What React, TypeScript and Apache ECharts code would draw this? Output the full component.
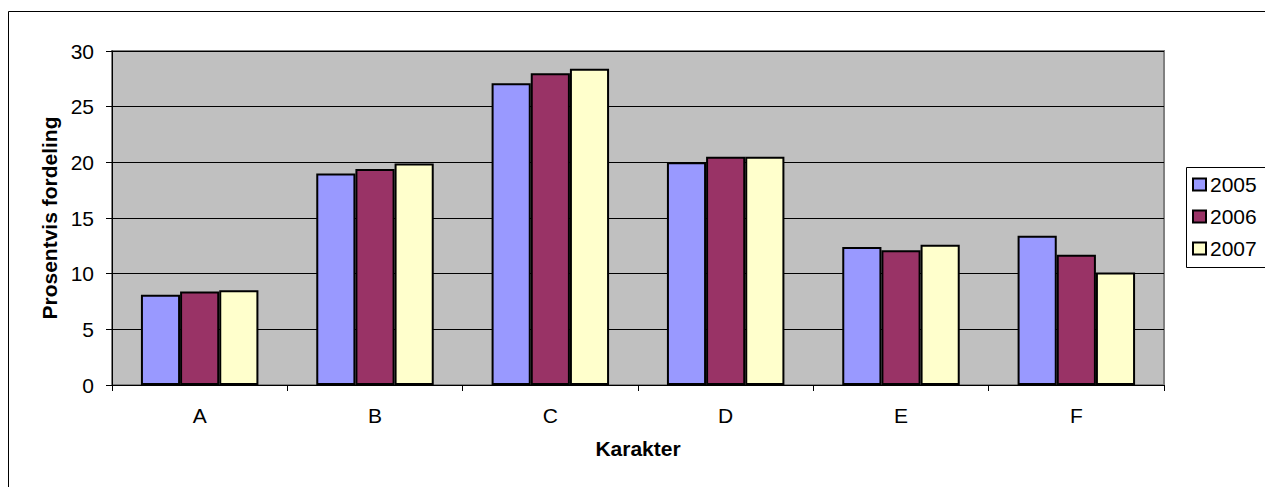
import React, { useEffect, useRef } from "react";
import * as echarts from "echarts";

const categories = ["A", "B", "C", "D", "E", "F"];
const seriesNames = ["2005", "2006", "2007"];
const values2005 = [8.1, 19.0, 27.1, 20.0, 12.4, 13.4];
const values2006 = [8.4, 19.4, 28.0, 20.5, 12.1, 11.7];
const values2007 = [8.5, 19.9, 28.4, 20.5, 12.6, 10.1];
const colors = ["#9999FF", "#993366", "#FFFFCC"];
const yTicks = { min: 0, max: 30, interval: 5 };

const FONT = "'Liberation Sans', Arial, sans-serif";

export default function App() {
  const ref = useRef<HTMLDivElement>(null);
  useEffect(() => {
    if (!ref.current) return;
    const chart = echarts.init(ref.current, null, { renderer: "svg" });
    const data = [values2005, values2006, values2007];
    chart.setOption({
      animation: false,
      backgroundColor: "#ffffff",
      textStyle: { fontFamily: FONT },
      grid: {
        left: 112,
        right: 101,
        top: 51,
        bottom: 102,
        show: true,
        backgroundColor: "#C0C0C0",
        borderColor: "#808080",
        borderWidth: 2,
      },
      legend: {
        orient: "vertical",
        left: 1192,
        top: 174,
        padding: 0,
        itemWidth: 13,
        itemHeight: 12,
        itemGap: 11,
        icon: "rect",
        textStyle: { fontSize: 21, color: "#000", fontFamily: FONT, padding: [0, 0, 0, -1] },
        data: seriesNames,
      },
      xAxis: {
        type: "category",
        data: categories,
        name: "Karakter",
        nameLocation: "middle",
        nameGap: 53,
        nameTextStyle: { fontSize: 21, fontWeight: "bold", color: "#000", fontFamily: FONT },
        axisLine: { show: true, lineStyle: { color: "#000", width: 1 } },
        axisTick: { show: true, length: 6, lineStyle: { color: "#000" } },
        axisLabel: { fontSize: 21, color: "#000", margin: 20, fontFamily: FONT },
        splitLine: { show: false },
      },
      yAxis: {
        type: "value",
        min: yTicks.min,
        max: yTicks.max,
        interval: yTicks.interval,
        name: "Prosentvis fordeling",
        nameLocation: "middle",
        nameGap: 52,
        nameTextStyle: { fontSize: 21, fontWeight: "bold", color: "#000", fontFamily: FONT },
        axisLine: { show: true, lineStyle: { color: "#000", width: 1 } },
        axisTick: { show: true, length: 6, lineStyle: { color: "#000" } },
        axisLabel: { fontSize: 21, color: "#000", margin: 18, fontFamily: FONT },
        splitLine: { show: true, lineStyle: { color: "#000", width: 1 } },
      },
      graphic: [
        {
          type: "rect",
          shape: { x: 8.5, y: 11.5, width: 1400, height: 600 },
          style: { fill: "none", stroke: "#000", lineWidth: 1 },
          silent: true,
          z: 100,
        },
        {
          type: "rect",
          shape: { x: 1186.5, y: 167.5, width: 200, height: 100 },
          style: { fill: "none", stroke: "#000", lineWidth: 1 },
          silent: true,
          z: 100,
        },
      ],
      series: seriesNames.map((name, i) => ({
        name,
        type: "bar",
        data: data[i],
        barGap: "0%",
        barCategoryGap: "33%",
        itemStyle: { color: colors[i], borderColor: "#000", borderWidth: 2 },
      })),
    });
    return () => chart.dispose();
  }, []);
  return (
    <div
      ref={ref}
      style={{ position: "absolute", left: 0, top: 0, width: 1265, height: 487 }}
    />
  );
}
